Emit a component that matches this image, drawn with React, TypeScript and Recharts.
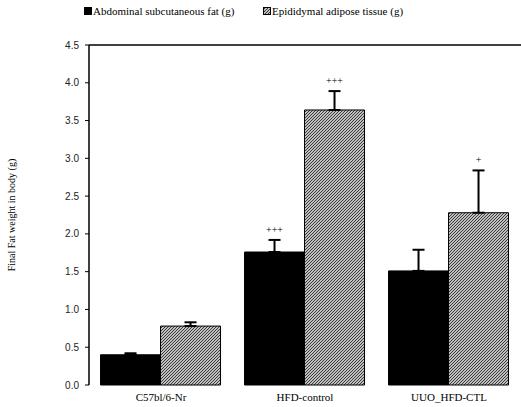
import React from "react";
import {
  BarChart,
  Bar,
  XAxis,
  YAxis,
  ErrorBar,
  LabelList,
  Legend,
  ReferenceLine,
} from "recharts";

const groups = ["C57bl/6-Nr", "HFD-control", "UUO_HFD-CTL"];
const abdominal = [0.4, 1.76, 1.51];
const abdominalErr = [0.02, 0.16, 0.28];
const abdominalMark = ["", "+++", ""];
const epididymal = [0.78, 3.64, 2.28];
const epididymalErr = [0.05, 0.25, 0.56];
const epididymalMark = ["", "+++", "+"];
const yTicks = [0, 0.5, 1, 1.5, 2, 2.5, 3, 3.5, 4, 4.5];

const data = groups.map((g, i) => ({
  group: g,
  abdominal: abdominal[i],
  abdominalErr: [0, abdominalErr[i]],
  epididymal: epididymal[i],
  epididymalErr: [0, epididymalErr[i]],
}));

const serif = "'Liberation Serif', 'Times New Roman', serif";
const sans = "'Liberation Sans', Arial, sans-serif";

function markLabel(errs: number[], marks: string[]) {
  return (props: any) => {
    const { x, y, width, height, value, index } = props;
    const mark = marks[index];
    if (!mark) return null;
    const ppu = height / value;
    const top = y - errs[index] * ppu;
    return (
      <text
        x={x + width / 2}
        y={top - 7}
        textAnchor="middle"
        fontFamily={serif}
        fontSize={10}
        fill="#000"
      >
        {mark}
      </text>
    );
  };
}

function LegendBox() {
  return (
    <div style={{ display: "flex", fontFamily: serif, fontSize: 11, color: "#000" }}>
      <div style={{ display: "flex", alignItems: "center", width: 179 }}>
        <span style={{ display: "inline-block", width: 8, height: 8, background: "#000", marginRight: 1 }} />
        Abdominal subcutaneous fat (g)
      </div>
      <div style={{ display: "flex", alignItems: "center" }}>
        <svg width={8} height={8} style={{ marginRight: 1 }}>
          <rect x={0.5} y={0.5} width={7} height={7} fill="url(#hatch)" stroke="#000" />
        </svg>
        Epididymal adipose tissue (g)
      </div>
    </div>
  );
}

export default function App() {
  return (
    <div style={{ position: "absolute", left: 0, top: 0, width: 521, height: 407, background: "#fff" }}>
      <svg width={0} height={0} style={{ position: "absolute" }}>
        <defs>
          <pattern id="hatch" patternUnits="userSpaceOnUse" width={3} height={3}>
            <rect width={3} height={3} fill="#fff" />
            <path d="M-1,1 l2,-2 M0,3 l3,-3 M2,4 l2,-2" stroke="#333" strokeWidth={1.2} />
          </pattern>
        </defs>
      </svg>
      <BarChart
        width={521}
        height={407}
        data={data}
        margin={{ top: 45, right: 0, bottom: 0, left: 0 }}
        barCategoryGap="8%"
        barGap={0}
      >
        <Legend
          layout="horizontal"
          verticalAlign="middle"
          align="center"
          wrapperStyle={{ top: 5, left: 84, width: "auto" }}
          content={() => <LegendBox />}
        />
        <XAxis
          xAxisId="edge"
          type="number"
          domain={[0, 3]}
          ticks={[0, 1, 2, 3]}
          tick={false}
          height={0}
          tickSize={3}
          axisLine={{ stroke: "#000", strokeWidth: 1.5 }}
          tickLine={{ stroke: "#000", strokeWidth: 1.5 }}
        />
        <XAxis
          xAxisId="cat"
          dataKey="group"
          height={22}
          axisLine={false}
          tickLine={false}
          tick={{ fontFamily: serif, fontSize: 11, fill: "#000" }}
          tickMargin={2}
        />
        <YAxis
          domain={[0, 4.5]}
          ticks={yTicks}
          tickFormatter={(v: number) => v.toFixed(1)}
          width={89}
          tickSize={4}
          tickMargin={6}
          axisLine={{ stroke: "#000", strokeWidth: 1.5 }}
          tickLine={{ stroke: "#000" }}
          tick={{ fontFamily: sans, fontSize: 10, fill: "#222" }}
          label={{
            value: "Final Fat weight in body (g)",
            angle: -90,
            position: "insideLeft",
            offset: 11,
            style: { fontFamily: serif, fontSize: 10, fill: "#000", textAnchor: "middle" },
          }}
        />
        <ReferenceLine xAxisId="cat" y={4.5} stroke="#000" strokeWidth={1.5} />
        <Bar
          xAxisId="cat"
          dataKey="abdominal"
          fill="#000"
          stroke="#000"
          isAnimationActive={false}
        >
          <ErrorBar dataKey="abdominalErr" width={6} stroke="#000" strokeWidth={2} />
          <LabelList dataKey="abdominal" content={markLabel(abdominalErr, abdominalMark)} />
        </Bar>
        <Bar
          xAxisId="cat"
          dataKey="epididymal"
          fill="url(#hatch)"
          stroke="#000"
          isAnimationActive={false}
        >
          <ErrorBar dataKey="epididymalErr" width={6} stroke="#000" strokeWidth={2} />
          <LabelList dataKey="epididymal" content={markLabel(epididymalErr, epididymalMark)} />
        </Bar>
      </BarChart>
    </div>
  );
}
